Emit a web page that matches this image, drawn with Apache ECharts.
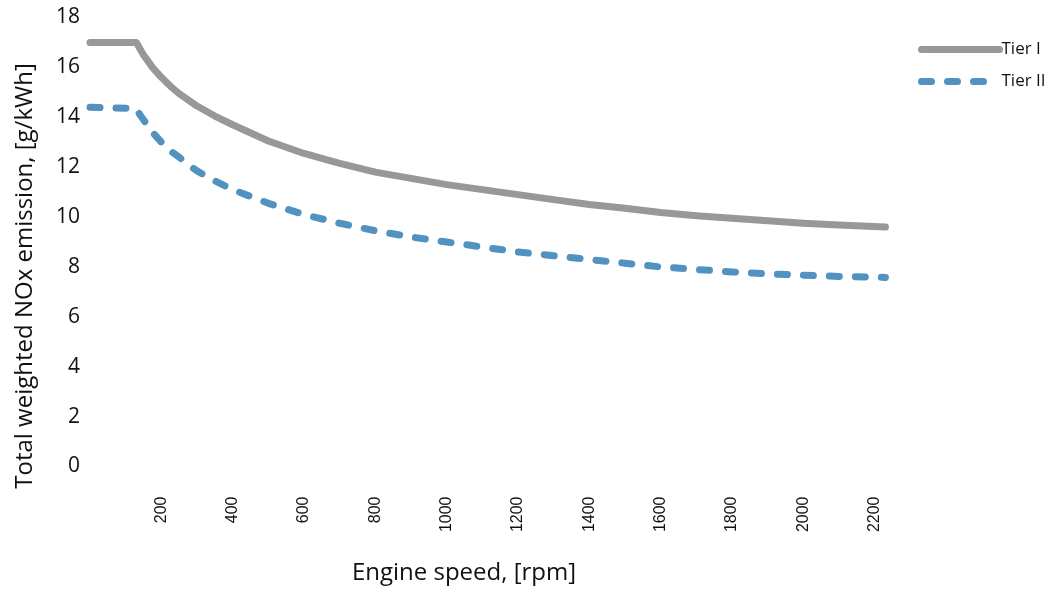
<!DOCTYPE html>
<html>
<head>
<meta charset="utf-8">
<script src="https://cdn.jsdelivr.net/npm/echarts@6/dist/echarts.min.js"></script>
<style>
  html, body { margin: 0; padding: 0; background: #ffffff; }
  #chart { width: 1054px; height: 589px; }
</style>
</head>
<body>
<div id="chart"></div>
<script>
// Engine speed (rpm) sample points
const speedTier1 = [0, 130, 140, 150, 160, 175, 200, 225, 250, 275, 300, 350, 400, 500, 600, 700, 800, 900, 1000, 1100, 1200, 1300, 1400, 1500, 1600, 1700, 1800, 1900, 2000, 2100, 2230];
const noxTier1 = [17.0, 17.0, 16.75, 16.5, 16.3, 16.0, 15.6, 15.25, 14.95, 14.7, 14.45, 14.05, 13.7, 13.05, 12.55, 12.15, 11.8, 11.55, 11.3, 11.1, 10.9, 10.7, 10.5, 10.35, 10.18, 10.05, 9.95, 9.85, 9.75, 9.68, 9.6];

const speedTier2 = [0, 130, 140, 150, 160, 175, 200, 225, 250, 275, 300, 350, 400, 500, 600, 700, 800, 900, 1000, 1100, 1200, 1300, 1400, 1500, 1600, 1700, 1800, 1900, 2000, 2100, 2230];
const noxTier2 = [14.4, 14.35, 14.1, 13.9, 13.7, 13.4, 13.0, 12.65, 12.4, 12.1, 11.85, 11.45, 11.1, 10.55, 10.1, 9.75, 9.45, 9.2, 9.0, 8.8, 8.6, 8.45, 8.3, 8.15, 8.0, 7.9, 7.8, 7.72, 7.67, 7.62, 7.58];

const seriesNames = ['Tier I', 'Tier II'];
const xAxisTitle = 'Engine speed, [rpm]';
const yAxisTitle = 'Total weighted NOx emission, [g/kWh]';

const pairs = (xs, ys) => xs.map((x, i) => [x, ys[i]]);

const chart = echarts.init(document.getElementById('chart'));
chart.setOption({
  animation: false,
  backgroundColor: '#ffffff',
  grid: { left: 90, top: 17.5, width: 799, height: 449, outerBoundsMode: 'none', containLabel: false },
  graphic: [
    {
      // vertical axis title
      type: 'text',
      x: 25,
      y: 276,
      rotation: Math.PI / 2,
      style: {
        text: yAxisTitle,
        fill: '#111',
        font: '24px "Open Sans"',
        align: 'center',
        verticalAlign: 'middle'
      }
    }
  ],
  legend: {
    orient: 'vertical',
    left: 913,
    top: 36,
    itemWidth: 78,
    itemHeight: 14,
    itemGap: 15,
    data: seriesNames,
    lineStyle: { width: 7, cap: 'round' },
    itemStyle: { opacity: 0, borderWidth: 0 },
    textStyle: { fontFamily: 'Open Sans', fontSize: 17, color: '#111', padding: [0, 0, 0, -3] }
  },
  xAxis: {
    type: 'value',
    min: 0,
    max: 2240,
    interval: 200,
    name: xAxisTitle,
    nameLocation: 'middle',
    nameGap: 95,
    nameTextStyle: { fontFamily: 'Open Sans', fontSize: 24, color: '#111', padding: [0, 51, 0, 0] },
    axisLine: { show: false },
    axisTick: { show: false },
    splitLine: { show: false },
    axisLabel: {
      rotate: 90,
      margin: 30,
      showMaxLabel: false,
      fontFamily: 'Liberation Sans',
      fontSize: 16,
      color: '#111',
      formatter: v => (v === 0 || v > 2200 ? '' : String(v))
    }
  },
  yAxis: {
    type: 'value',
    min: 0,
    max: 18,
    interval: 2,
    axisLine: { show: false },
    axisTick: { show: false },
    splitLine: { show: false },
    axisLabel: { margin: 10, fontFamily: 'Open Sans', fontSize: 21, color: '#111' }
  },
  series: [
    {
      name: seriesNames[0],
      type: 'line',
      data: pairs(speedTier1, noxTier1),
      showSymbol: false,
      symbol: 'none',
      smooth: false,
      lineStyle: { color: '#98989c', width: 7, cap: 'round', join: 'round' },
      itemStyle: { color: '#98989c' }
    },
    {
      name: seriesNames[1],
      type: 'line',
      data: pairs(speedTier2, noxTier2),
      showSymbol: false,
      symbol: 'none',
      smooth: false,
      lineStyle: { color: '#5292c0', width: 7, type: [10, 16], cap: 'round', join: 'round' },
      itemStyle: { color: '#5292c0' }
    }
  ]
});
</script>
</body>
</html>
